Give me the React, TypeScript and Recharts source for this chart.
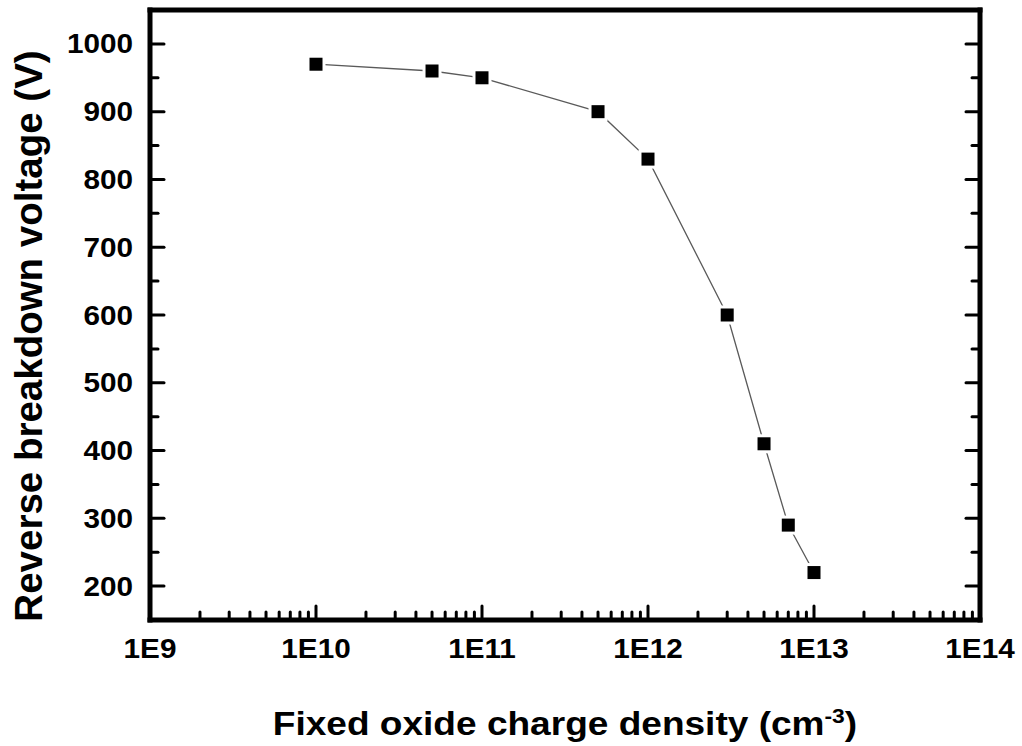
import { LineChart, Line, XAxis, YAxis } from 'recharts';

// breakdown voltage vs fixed oxide charge density
const densities = [1e10, 5e10, 1e11, 5e11, 1e12, 3e12, 5e12, 7e12, 1e13];
const voltages = [970, 960, 950, 900, 830, 600, 410, 290, 220];

const decadeTicks = [1e9, 1e10, 1e11, 1e12, 1e13, 1e14];
const voltTicks = [200, 300, 400, 500, 600, 700, 800, 900, 1000];

const data = densities.map((x, i) => ({ x, v: voltages[i] }));

// minor ticks: 2..9 in every decade, halfway marks on the voltage axis
const minorX = decadeTicks.slice(0, -1).flatMap((d) => [2, 3, 4, 5, 6, 7, 8, 9].map((m) => m * d));
const minorY = voltTicks.slice(0, -1).map((v) => v + 50);
const xTicks = [...decadeTicks, ...minorX];
const yTicks = [...voltTicks, ...minorY];

const FONT = '"Liberation Sans", Arial, Helvetica, sans-serif';
const MAJOR = 14;
const MINOR = 8;
const TICK_FONT = 27.5;

const tickStroke = { stroke: '#000', strokeWidth: 3, strokeLinecap: 'round' as const };
const frame = { stroke: '#000', strokeWidth: 5, strokeLinecap: 'square' as const };

const decadeLabel = (v: number) => '1E' + Math.round(Math.log10(v));

function BottomTick({ x, y, payload }: any) {
  const major = decadeTicks.includes(payload.value);
  return (
    <g>
      <line x1={x} x2={x} y1={y} y2={y - (major ? MAJOR : MINOR)} {...tickStroke} />
      {major && (
        <text
          transform={`translate(${x},${y + 38}) scale(1.08,1)`}
          textAnchor="middle"
          fontFamily={FONT}
          fontWeight="bold"
          fontSize={TICK_FONT}
          fill="#000"
        >
          {decadeLabel(payload.value)}
        </text>
      )}
    </g>
  );
}

function TopTick({ x, y, payload }: any) {
  const major = decadeTicks.includes(payload.value);
  return <line x1={x} x2={x} y1={y} y2={y + (major ? MAJOR : MINOR)} {...tickStroke} />;
}

function LeftTick({ x, y, payload }: any) {
  const major = voltTicks.includes(payload.value);
  return (
    <g>
      <line x1={x} x2={x + (major ? MAJOR : MINOR)} y1={y} y2={y} {...tickStroke} />
      {major && (
        <text
          transform={`translate(${x - 17},${y + 9.5}) scale(1.08,1)`}
          textAnchor="end"
          fontFamily={FONT}
          fontWeight="bold"
          fontSize={TICK_FONT}
          fill="#000"
        >
          {payload.value}
        </text>
      )}
    </g>
  );
}

function RightTick({ x, y, payload }: any) {
  const major = voltTicks.includes(payload.value);
  return <line x1={x} x2={x - (major ? MAJOR : MINOR)} y1={y} y2={y} {...tickStroke} />;
}

function SquareDot({ cx, cy, index }: any) {
  return (
    <g key={index}>
      <rect x={cx - 9.5} y={cy - 9.5} width={19} height={19} fill="#fff" />
      <rect x={cx - 6.5} y={cy - 6.5} width={13} height={13} fill="#000" />
    </g>
  );
}

const xTitle = () => (
  <text
    transform="translate(565,735) scale(1.09,1)"
    textAnchor="middle"
    fontFamily={FONT}
    fontWeight="bold"
    fontSize={34}
    fill="#000"
  >
    Fixed oxide charge density (cm
    <tspan dy={-12} fontSize={21}>-3</tspan>
    <tspan dy={12}>)</tspan>
  </text>
);

const yTitle = () => (
  <text
    transform="translate(42,336) rotate(-90)"
    textAnchor="middle"
    fontFamily={FONT}
    fontWeight="bold"
    fontSize={38.5}
    fill="#000"
  >
    Reverse breakdown voltage (V)
  </text>
);

export default function App() {
  return (
    <div style={{ position: 'absolute', left: 0, top: 0, background: '#fff' }}>
      <LineChart width={1022} height={746} data={data} margin={{ top: 0, right: 0, bottom: 0, left: 0 }}>
        <XAxis
          dataKey="x"
          type="number"
          scale="log"
          domain={[1e9, 1e14]}
          allowDataOverflow
          ticks={xTicks}
          interval={0}
          height={126}
          tickSize={0}
          tickMargin={0}
          tickLine={false}
          axisLine={frame}
          tick={<BottomTick />}
          label={{ content: xTitle }}
        />
        <XAxis
          xAxisId="top"
          orientation="top"
          type="number"
          scale="log"
          domain={[1e9, 1e14]}
          allowDataOverflow
          ticks={xTicks}
          interval={0}
          height={10}
          tickSize={0}
          tickMargin={0}
          tickLine={false}
          axisLine={frame}
          tick={<TopTick />}
        />
        <YAxis
          type="number"
          domain={[150, 1050]}
          allowDataOverflow
          ticks={yTicks}
          interval={0}
          width={150}
          tickSize={0}
          tickMargin={0}
          tickLine={false}
          axisLine={frame}
          tick={<LeftTick />}
          label={{ content: yTitle }}
        />
        <YAxis
          yAxisId="right"
          orientation="right"
          type="number"
          domain={[150, 1050]}
          allowDataOverflow
          ticks={yTicks}
          interval={0}
          width={42}
          tickSize={0}
          tickMargin={0}
          tickLine={false}
          axisLine={frame}
          tick={<RightTick />}
        />
        <Line
          dataKey="v"
          stroke="#5a5a5a"
          strokeWidth={1.3}
          dot={SquareDot}
          activeDot={false}
          isAnimationActive={false}
        />
      </LineChart>
    </div>
  );
}
